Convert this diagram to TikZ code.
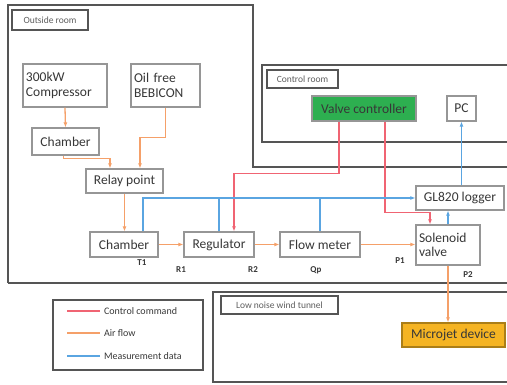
\documentclass[tikz,border=0pt]{standalone}
\usepackage{fontspec}
\setmainfont{Carlito}
\usepackage{xcolor}
\usetikzlibrary{arrows.meta}
\definecolor{roomgray}{RGB}{85,85,85}
\definecolor{boxgray}{RGB}{150,150,150}
\definecolor{txtgray}{RGB}{55,55,55}
\definecolor{ctrlred}{RGB}{240,100,115}
\definecolor{airorange}{RGB}{245,160,105}
\definecolor{measblue}{RGB}{90,165,225}
\definecolor{vcgreen}{RGB}{45,175,80}
\definecolor{mjorange}{RGB}{245,180,35}
\tikzset{
  room/.style={draw=roomgray,line width=2.4pt},
  roomtag/.style={draw=roomgray,line width=1.8pt,fill=white,inner sep=0pt,text=txtgray!80,font=\fontsize{9.5}{10}\selectfont},
  unit/.style={draw=boxgray,line width=1.2pt,fill=white,inner sep=2pt,text=txtgray,font=\fontsize{13.5}{14.5}\selectfont},
  tag/.style={text=txtgray,font=\bfseries\fontsize{9}{10}\selectfont},
  legtext/.style={text=txtgray,font=\fontsize{10}{11}\selectfont,anchor=west},
  ctrl/.style={draw=ctrlred,line width=1.3pt,-{Latex[length=5pt,width=4pt]}},
  air/.style={draw=airorange,line width=1.3pt,-{Latex[length=5pt,width=4pt]}},
  meas/.style={draw=measblue,line width=1.3pt,-{Latex[length=5pt,width=4pt]}},
}
\begin{document}
\begin{tikzpicture}[x=1pt,y=-1pt]
		\useasboundingbox (0,0) rectangle (507,385);
		% rooms
		\draw[room] (8,283) -- (8,5) -- (253,5) -- (253,167) -- (512,167);
		\draw[room] (8,283) -- (512,283);
		\draw[room] (512,65) -- (262,65) -- (262,142) -- (512,142);
		\draw[room] (512,292) -- (213,292) -- (213,382) -- (512,382);
		\node[roomtag,minimum width=76pt,minimum height=20pt] (outtag) at (50,20) {Outside room};
		\node[roomtag,minimum width=71pt,minimum height=18pt] (ctrltag) at (302.5,79) {Control room};
		\node[roomtag,minimum width=117pt,minimum height=18pt] (lnttag) at (279.5,305) {Low noise wind tunnel};
		% units
		\node[unit,minimum width=84pt,minimum height=43pt,align=left,text width=78pt] (comp) at (65,85.5) {300kW\\Compressor};
		\node[unit,minimum width=69pt,minimum height=43pt,align=left,text width=63pt] (bebicon) at (165.5,85.5) {Oil free\\BEBICON};
		\node[unit,minimum width=67pt,minimum height=27pt] (chtop) at (65.5,141.5) {Chamber};
		\node[unit,minimum width=77pt,minimum height=24pt] (relay) at (124.5,181) {Relay point};
		\node[unit,minimum width=68pt,minimum height=25pt] (chbot) at (124,244.5) {Chamber};
		\node[unit,minimum width=70pt,minimum height=25pt] (reg) at (219,244.5) {Regulator};
		\node[unit,minimum width=80pt,minimum height=25pt] (flow) at (320,244.5) {Flow meter};
		\node[unit,minimum width=64pt,minimum height=40pt,align=left,text width=58pt] (sol) at (448,245) {Solenoid\\valve};
		\node[unit,minimum width=88pt,minimum height=24pt] (logger) at (460,198) {GL820 logger};
		\node[unit,fill=vcgreen,minimum width=104pt,minimum height=25pt] (vc) at (364,108.5) {Valve controller};
		\node[unit,minimum width=29pt,minimum height=25pt] (pc) at (461.5,108.5) {PC};
		\node[unit,fill=mjorange,draw=mjorange!70!black,minimum width=103pt,minimum height=24pt] (micro) at (453.5,335) {Microjet device};
		% sensor tags
		\node[tag] (t1) at (142,263) {T1};
		\node[tag] (r1) at (181,270) {R1};
		\node[tag] (r2) at (253,270) {R2};
		\node[tag] (qp) at (316,270) {Qp};
		\node[tag] (p1) at (400,261) {P1};
		\node[tag] (p2) at (468,275) {P2};
		% air flow
		\draw[air] (comp.south) -- (chtop.north);
		\draw[air] ([xshift=-2pt]chtop.south) -- ++(0,3) -| ([xshift=-14.5pt]relay.north);
		\draw[air] (bebicon.south) |- ([xshift=15.5pt,yshift=31pt]relay.north) -- ([xshift=15.5pt]relay.north);
		\draw[air] (relay.south) -- (relay.south |- chbot.north);
		\draw[air] (chbot.east) -- (reg.west);
		\draw[air] (reg.east) -- (flow.west);
		\draw[air] (flow.east) -- (flow.east -| sol.west);
		\draw[air] (sol.south) -- (sol.south |- micro.north);
		% control command
		\draw[ctrl] ([xshift=-25pt]vc.south) |- ([xshift=15pt,yshift=58pt]reg.north) -- ([xshift=15pt]reg.north);
		\draw[ctrl] ([xshift=21pt]vc.south) |- ([xshift=-18pt,yshift=12pt]sol.north) -- ([xshift=-18pt]sol.north);
		% measurement data
		\draw[meas] ([xshift=19pt]chbot.north) |- (logger.west);
		\draw[measblue,line width=1.3pt] (reg.north) -- (reg.north |- logger.west);
		\draw[measblue,line width=1.3pt] (flow.north) -- (flow.north |- logger.west);
		\draw[meas] (sol.north) -- (sol.north |- logger.south);
		\draw[meas] (pc.south |- logger.north) -- (pc.south);
		% legend
		\node[draw=roomgray,line width=2pt,minimum width=150pt,minimum height=70pt] (legend) at (128,335) {};
		\draw[ctrlred,line width=1.5pt] (67,311) -- (100,311) node[legtext] (lgctrl) {Control command};
		\draw[airorange,line width=1.5pt] (67,333) -- (100,333) node[legtext] (lgair) {Air flow};
		\draw[measblue,line width=1.5pt] (67,356) -- (100,356) node[legtext] (lgmeas) {Measurement data};
	\end{tikzpicture}
\end{document}
